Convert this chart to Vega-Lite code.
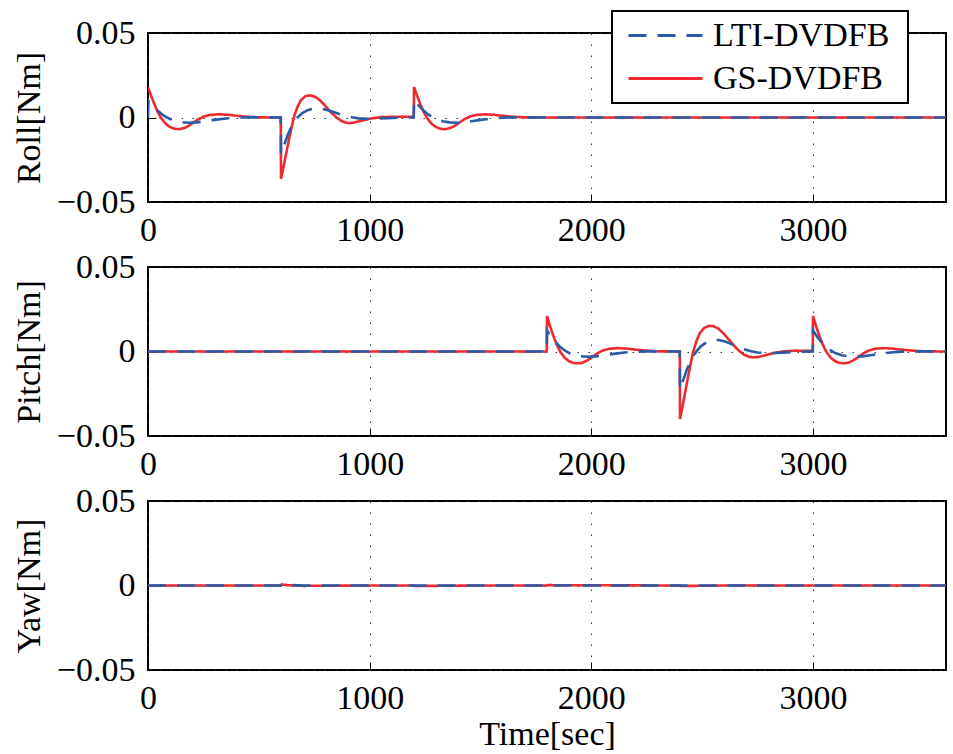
{
 "$schema": "https://vega.github.io/schema/vega-lite/v6.json",
 "padding": {"left": 11, "top": 9, "right": 5, "bottom": 5},
 "spacing": 65,
 "bounds": "flush",
 "datasets": {
  "roll": [
   {"t":0,"v":0.018,"s":"GS-DVDFB"},{"t":15,"v":0.0125,"s":"GS-DVDFB"},{"t":30,"v":0.0075,"s":"GS-DVDFB"},{"t":45,"v":0.003,"s":"GS-DVDFB"},{"t":60,"v":-0.0005,"s":"GS-DVDFB"},{"t":80,"v":-0.0038,"s":"GS-DVDFB"},{"t":100,"v":-0.0057,"s":"GS-DVDFB"},{"t":120,"v":-0.0067,"s":"GS-DVDFB"},{"t":140,"v":-0.0069,"s":"GS-DVDFB"},{"t":160,"v":-0.0064,"s":"GS-DVDFB"},{"t":180,"v":-0.0052,"s":"GS-DVDFB"},{"t":200,"v":-0.0035,"s":"GS-DVDFB"},{"t":225,"v":-0.0012,"s":"GS-DVDFB"},{"t":250,"v":0.0005,"s":"GS-DVDFB"},{"t":280,"v":0.0015,"s":"GS-DVDFB"},{"t":320,"v":0.0019,"s":"GS-DVDFB"},{"t":360,"v":0.0016,"s":"GS-DVDFB"},{"t":400,"v":0.001,"s":"GS-DVDFB"},{"t":450,"v":0.0004,"s":"GS-DVDFB"},{"t":500,"v":0.0001,"s":"GS-DVDFB"},{"t":560,"v":0,"s":"GS-DVDFB"},{"t":599,"v":0,"s":"GS-DVDFB"},
   {"t":600,"v":-0.0363,"s":"GS-DVDFB"},{"t":610,"v":-0.03,"s":"GS-DVDFB"},{"t":620,"v":-0.0235,"s":"GS-DVDFB"},{"t":630,"v":-0.017,"s":"GS-DVDFB"},{"t":640,"v":-0.0105,"s":"GS-DVDFB"},{"t":650,"v":-0.0045,"s":"GS-DVDFB"},{"t":660,"v":0.001,"s":"GS-DVDFB"},{"t":675,"v":0.0065,"s":"GS-DVDFB"},{"t":690,"v":0.0103,"s":"GS-DVDFB"},{"t":710,"v":0.0126,"s":"GS-DVDFB"},{"t":730,"v":0.0131,"s":"GS-DVDFB"},{"t":750,"v":0.0125,"s":"GS-DVDFB"},{"t":770,"v":0.0108,"s":"GS-DVDFB"},{"t":790,"v":0.0083,"s":"GS-DVDFB"},{"t":810,"v":0.0054,"s":"GS-DVDFB"},{"t":830,"v":0.0024,"s":"GS-DVDFB"},{"t":850,"v":0.0001,"s":"GS-DVDFB"},{"t":870,"v":-0.0018,"s":"GS-DVDFB"},{"t":890,"v":-0.003,"s":"GS-DVDFB"},{"t":910,"v":-0.0033,"s":"GS-DVDFB"},{"t":930,"v":-0.003,"s":"GS-DVDFB"},{"t":960,"v":-0.002,"s":"GS-DVDFB"},{"t":1000,"v":-0.0007,"s":"GS-DVDFB"},{"t":1050,"v":0.0002,"s":"GS-DVDFB"},{"t":1100,"v":0.0004,"s":"GS-DVDFB"},{"t":1199,"v":0.0004,"s":"GS-DVDFB"},
   {"t":1200,"v":0.018,"s":"GS-DVDFB"},{"t":1215,"v":0.0125,"s":"GS-DVDFB"},{"t":1230,"v":0.0075,"s":"GS-DVDFB"},{"t":1245,"v":0.003,"s":"GS-DVDFB"},{"t":1260,"v":-0.0005,"s":"GS-DVDFB"},{"t":1280,"v":-0.0038,"s":"GS-DVDFB"},{"t":1300,"v":-0.0057,"s":"GS-DVDFB"},{"t":1320,"v":-0.0067,"s":"GS-DVDFB"},{"t":1340,"v":-0.0069,"s":"GS-DVDFB"},{"t":1360,"v":-0.0064,"s":"GS-DVDFB"},{"t":1380,"v":-0.0052,"s":"GS-DVDFB"},{"t":1400,"v":-0.0035,"s":"GS-DVDFB"},{"t":1425,"v":-0.0012,"s":"GS-DVDFB"},{"t":1450,"v":0.0005,"s":"GS-DVDFB"},{"t":1480,"v":0.0015,"s":"GS-DVDFB"},{"t":1520,"v":0.0019,"s":"GS-DVDFB"},{"t":1560,"v":0.0016,"s":"GS-DVDFB"},{"t":1600,"v":0.001,"s":"GS-DVDFB"},{"t":1650,"v":0.0004,"s":"GS-DVDFB"},{"t":1700,"v":0.0001,"s":"GS-DVDFB"},{"t":1760,"v":0,"s":"GS-DVDFB"},{"t":3600,"v":0,"s":"GS-DVDFB"},
   {"t":0,"v":0,"s":"LTI-DVDFB"},{"t":2,"v":0.0098,"s":"LTI-DVDFB"},{"t":20,"v":0.0072,"s":"LTI-DVDFB"},{"t":40,"v":0.0045,"s":"LTI-DVDFB"},{"t":60,"v":0.0022,"s":"LTI-DVDFB"},{"t":80,"v":0.0004,"s":"LTI-DVDFB"},{"t":100,"v":-0.0009,"s":"LTI-DVDFB"},{"t":130,"v":-0.0022,"s":"LTI-DVDFB"},{"t":160,"v":-0.0029,"s":"LTI-DVDFB"},{"t":190,"v":-0.0031,"s":"LTI-DVDFB"},{"t":220,"v":-0.0029,"s":"LTI-DVDFB"},{"t":260,"v":-0.0022,"s":"LTI-DVDFB"},{"t":300,"v":-0.0014,"s":"LTI-DVDFB"},{"t":350,"v":-0.0006,"s":"LTI-DVDFB"},{"t":400,"v":-0.0001,"s":"LTI-DVDFB"},{"t":450,"v":0.0001,"s":"LTI-DVDFB"},{"t":520,"v":0.0001,"s":"LTI-DVDFB"},{"t":599,"v":0,"s":"LTI-DVDFB"},
   {"t":600,"v":-0.0215,"s":"LTI-DVDFB"},{"t":615,"v":-0.016,"s":"LTI-DVDFB"},{"t":630,"v":-0.0105,"s":"LTI-DVDFB"},{"t":645,"v":-0.006,"s":"LTI-DVDFB"},{"t":660,"v":-0.0025,"s":"LTI-DVDFB"},{"t":675,"v":0,"s":"LTI-DVDFB"},{"t":695,"v":0.0025,"s":"LTI-DVDFB"},{"t":720,"v":0.0043,"s":"LTI-DVDFB"},{"t":750,"v":0.0053,"s":"LTI-DVDFB"},{"t":775,"v":0.0053,"s":"LTI-DVDFB"},{"t":800,"v":0.0047,"s":"LTI-DVDFB"},{"t":830,"v":0.0035,"s":"LTI-DVDFB"},{"t":860,"v":0.0022,"s":"LTI-DVDFB"},{"t":890,"v":0.001,"s":"LTI-DVDFB"},{"t":920,"v":0.0001,"s":"LTI-DVDFB"},{"t":950,"v":-0.0005,"s":"LTI-DVDFB"},{"t":990,"v":-0.0008,"s":"LTI-DVDFB"},{"t":1030,"v":-0.0007,"s":"LTI-DVDFB"},{"t":1080,"v":-0.0004,"s":"LTI-DVDFB"},{"t":1140,"v":-0.0001,"s":"LTI-DVDFB"},{"t":1199,"v":0,"s":"LTI-DVDFB"},
   {"t":1200,"v":0.0105,"s":"LTI-DVDFB"},{"t":1220,"v":0.0072,"s":"LTI-DVDFB"},{"t":1240,"v":0.0045,"s":"LTI-DVDFB"},{"t":1260,"v":0.0022,"s":"LTI-DVDFB"},{"t":1280,"v":0.0004,"s":"LTI-DVDFB"},{"t":1300,"v":-0.0009,"s":"LTI-DVDFB"},{"t":1330,"v":-0.0022,"s":"LTI-DVDFB"},{"t":1360,"v":-0.0029,"s":"LTI-DVDFB"},{"t":1390,"v":-0.0031,"s":"LTI-DVDFB"},{"t":1420,"v":-0.0029,"s":"LTI-DVDFB"},{"t":1460,"v":-0.0022,"s":"LTI-DVDFB"},{"t":1500,"v":-0.0014,"s":"LTI-DVDFB"},{"t":1550,"v":-0.0006,"s":"LTI-DVDFB"},{"t":1600,"v":-0.0001,"s":"LTI-DVDFB"},{"t":1650,"v":0.0001,"s":"LTI-DVDFB"},{"t":1720,"v":0.0001,"s":"LTI-DVDFB"},{"t":1800,"v":0,"s":"LTI-DVDFB"},{"t":3600,"v":0,"s":"LTI-DVDFB"}
  ],
  "pitch": [
   {"t":0,"v":0,"s":"GS-DVDFB"},{"t":1799,"v":0,"s":"GS-DVDFB"},{"t":1800,"v":0.021,"s":"GS-DVDFB"},{"t":1815,"v":0.0145,"s":"GS-DVDFB"},{"t":1830,"v":0.0088,"s":"GS-DVDFB"},{"t":1845,"v":0.0038,"s":"GS-DVDFB"},{"t":1860,"v":-0.0002,"s":"GS-DVDFB"},{"t":1880,"v":-0.0037,"s":"GS-DVDFB"},{"t":1900,"v":-0.0058,"s":"GS-DVDFB"},{"t":1920,"v":-0.0068,"s":"GS-DVDFB"},{"t":1940,"v":-0.007,"s":"GS-DVDFB"},{"t":1960,"v":-0.0066,"s":"GS-DVDFB"},{"t":1980,"v":-0.0054,"s":"GS-DVDFB"},{"t":2000,"v":-0.0037,"s":"GS-DVDFB"},{"t":2025,"v":-0.0013,"s":"GS-DVDFB"},{"t":2050,"v":0.0005,"s":"GS-DVDFB"},{"t":2080,"v":0.0016,"s":"GS-DVDFB"},{"t":2120,"v":0.002,"s":"GS-DVDFB"},{"t":2160,"v":0.0017,"s":"GS-DVDFB"},{"t":2200,"v":0.0011,"s":"GS-DVDFB"},{"t":2250,"v":0.0005,"s":"GS-DVDFB"},{"t":2300,"v":0.0001,"s":"GS-DVDFB"},{"t":2399,"v":0,"s":"GS-DVDFB"},
   {"t":2400,"v":-0.04,"s":"GS-DVDFB"},{"t":2410,"v":-0.0335,"s":"GS-DVDFB"},{"t":2420,"v":-0.0265,"s":"GS-DVDFB"},{"t":2430,"v":-0.0195,"s":"GS-DVDFB"},{"t":2440,"v":-0.0125,"s":"GS-DVDFB"},{"t":2450,"v":-0.006,"s":"GS-DVDFB"},{"t":2460,"v":0,"s":"GS-DVDFB"},{"t":2475,"v":0.0065,"s":"GS-DVDFB"},{"t":2490,"v":0.011,"s":"GS-DVDFB"},{"t":2510,"v":0.014,"s":"GS-DVDFB"},{"t":2530,"v":0.0152,"s":"GS-DVDFB"},{"t":2550,"v":0.015,"s":"GS-DVDFB"},{"t":2570,"v":0.0138,"s":"GS-DVDFB"},{"t":2590,"v":0.0115,"s":"GS-DVDFB"},{"t":2610,"v":0.0087,"s":"GS-DVDFB"},{"t":2630,"v":0.0055,"s":"GS-DVDFB"},{"t":2650,"v":0.0025,"s":"GS-DVDFB"},{"t":2670,"v":0,"s":"GS-DVDFB"},{"t":2690,"v":-0.002,"s":"GS-DVDFB"},{"t":2710,"v":-0.0031,"s":"GS-DVDFB"},{"t":2730,"v":-0.0035,"s":"GS-DVDFB"},{"t":2750,"v":-0.0033,"s":"GS-DVDFB"},{"t":2780,"v":-0.0024,"s":"GS-DVDFB"},{"t":2820,"v":-0.001,"s":"GS-DVDFB"},{"t":2870,"v":0.0001,"s":"GS-DVDFB"},{"t":2920,"v":0.0005,"s":"GS-DVDFB"},{"t":2999,"v":0.0004,"s":"GS-DVDFB"},
   {"t":3000,"v":0.021,"s":"GS-DVDFB"},{"t":3015,"v":0.0145,"s":"GS-DVDFB"},{"t":3030,"v":0.0088,"s":"GS-DVDFB"},{"t":3045,"v":0.0038,"s":"GS-DVDFB"},{"t":3060,"v":-0.0002,"s":"GS-DVDFB"},{"t":3080,"v":-0.0037,"s":"GS-DVDFB"},{"t":3100,"v":-0.0058,"s":"GS-DVDFB"},{"t":3120,"v":-0.0068,"s":"GS-DVDFB"},{"t":3140,"v":-0.007,"s":"GS-DVDFB"},{"t":3160,"v":-0.0066,"s":"GS-DVDFB"},{"t":3180,"v":-0.0054,"s":"GS-DVDFB"},{"t":3200,"v":-0.0037,"s":"GS-DVDFB"},{"t":3225,"v":-0.0013,"s":"GS-DVDFB"},{"t":3250,"v":0.0005,"s":"GS-DVDFB"},{"t":3280,"v":0.0016,"s":"GS-DVDFB"},{"t":3320,"v":0.002,"s":"GS-DVDFB"},{"t":3360,"v":0.0017,"s":"GS-DVDFB"},{"t":3400,"v":0.0011,"s":"GS-DVDFB"},{"t":3450,"v":0.0005,"s":"GS-DVDFB"},{"t":3500,"v":0.0001,"s":"GS-DVDFB"},{"t":3600,"v":0,"s":"GS-DVDFB"},
   {"t":0,"v":0,"s":"LTI-DVDFB"},{"t":1799,"v":0,"s":"LTI-DVDFB"},{"t":1800,"v":0.0124,"s":"LTI-DVDFB"},{"t":1820,"v":0.0085,"s":"LTI-DVDFB"},{"t":1840,"v":0.0053,"s":"LTI-DVDFB"},{"t":1860,"v":0.0026,"s":"LTI-DVDFB"},{"t":1880,"v":0.0006,"s":"LTI-DVDFB"},{"t":1900,"v":-0.0009,"s":"LTI-DVDFB"},{"t":1930,"v":-0.0022,"s":"LTI-DVDFB"},{"t":1960,"v":-0.0029,"s":"LTI-DVDFB"},{"t":1990,"v":-0.0031,"s":"LTI-DVDFB"},{"t":2020,"v":-0.0029,"s":"LTI-DVDFB"},{"t":2060,"v":-0.0022,"s":"LTI-DVDFB"},{"t":2100,"v":-0.0014,"s":"LTI-DVDFB"},{"t":2150,"v":-0.0006,"s":"LTI-DVDFB"},{"t":2200,"v":-0.0001,"s":"LTI-DVDFB"},{"t":2250,"v":0.0001,"s":"LTI-DVDFB"},{"t":2320,"v":0.0001,"s":"LTI-DVDFB"},{"t":2399,"v":0,"s":"LTI-DVDFB"},
   {"t":2400,"v":-0.0225,"s":"LTI-DVDFB"},{"t":2415,"v":-0.0168,"s":"LTI-DVDFB"},{"t":2430,"v":-0.011,"s":"LTI-DVDFB"},{"t":2445,"v":-0.0063,"s":"LTI-DVDFB"},{"t":2460,"v":-0.0026,"s":"LTI-DVDFB"},{"t":2475,"v":0.0002,"s":"LTI-DVDFB"},{"t":2495,"v":0.0032,"s":"LTI-DVDFB"},{"t":2520,"v":0.0055,"s":"LTI-DVDFB"},{"t":2550,"v":0.0068,"s":"LTI-DVDFB"},{"t":2575,"v":0.0068,"s":"LTI-DVDFB"},{"t":2600,"v":0.006,"s":"LTI-DVDFB"},{"t":2630,"v":0.0045,"s":"LTI-DVDFB"},{"t":2660,"v":0.0028,"s":"LTI-DVDFB"},{"t":2690,"v":0.0013,"s":"LTI-DVDFB"},{"t":2720,"v":0.0002,"s":"LTI-DVDFB"},{"t":2750,"v":-0.0006,"s":"LTI-DVDFB"},{"t":2790,"v":-0.001,"s":"LTI-DVDFB"},{"t":2830,"v":-0.0009,"s":"LTI-DVDFB"},{"t":2880,"v":-0.0005,"s":"LTI-DVDFB"},{"t":2940,"v":-0.0001,"s":"LTI-DVDFB"},{"t":2999,"v":0,"s":"LTI-DVDFB"},
   {"t":3000,"v":0.0124,"s":"LTI-DVDFB"},{"t":3020,"v":0.0085,"s":"LTI-DVDFB"},{"t":3040,"v":0.0053,"s":"LTI-DVDFB"},{"t":3060,"v":0.0026,"s":"LTI-DVDFB"},{"t":3080,"v":0.0006,"s":"LTI-DVDFB"},{"t":3100,"v":-0.0009,"s":"LTI-DVDFB"},{"t":3130,"v":-0.0022,"s":"LTI-DVDFB"},{"t":3160,"v":-0.0029,"s":"LTI-DVDFB"},{"t":3190,"v":-0.0031,"s":"LTI-DVDFB"},{"t":3220,"v":-0.0029,"s":"LTI-DVDFB"},{"t":3260,"v":-0.0022,"s":"LTI-DVDFB"},{"t":3300,"v":-0.0014,"s":"LTI-DVDFB"},{"t":3350,"v":-0.0006,"s":"LTI-DVDFB"},{"t":3400,"v":-0.0001,"s":"LTI-DVDFB"},{"t":3450,"v":0.0001,"s":"LTI-DVDFB"},{"t":3520,"v":0.0001,"s":"LTI-DVDFB"},{"t":3600,"v":0,"s":"LTI-DVDFB"}
  ],
  "yaw": [
   {"t":0,"v":0,"s":"GS-DVDFB"},{"t":600,"v":0,"s":"GS-DVDFB"},{"t":603,"v":0.0006,"s":"GS-DVDFB"},{"t":630,"v":0.0002,"s":"GS-DVDFB"},{"t":700,"v":-0.0002,"s":"GS-DVDFB"},{"t":850,"v":-0.0001,"s":"GS-DVDFB"},{"t":1000,"v":0,"s":"GS-DVDFB"},{"t":1200,"v":0,"s":"GS-DVDFB"},{"t":1203,"v":-0.0003,"s":"GS-DVDFB"},{"t":1300,"v":-0.0002,"s":"GS-DVDFB"},{"t":1500,"v":0,"s":"GS-DVDFB"},{"t":1800,"v":0,"s":"GS-DVDFB"},{"t":1803,"v":0.0002,"s":"GS-DVDFB"},{"t":2400,"v":0,"s":"GS-DVDFB"},{"t":2403,"v":-0.0003,"s":"GS-DVDFB"},{"t":2600,"v":0,"s":"GS-DVDFB"},{"t":3600,"v":0,"s":"GS-DVDFB"},
   {"t":0,"v":0,"s":"LTI-DVDFB"},{"t":600,"v":0,"s":"LTI-DVDFB"},{"t":603,"v":0.0005,"s":"LTI-DVDFB"},{"t":700,"v":0,"s":"LTI-DVDFB"},{"t":3600,"v":0,"s":"LTI-DVDFB"}
  ]
 },
 "resolve": {
  "scale": {"color": "independent", "strokeDash": "independent"},
  "legend": {"color": "independent", "strokeDash": "independent"}
 },
 "vconcat": [
  {
   "width": 798, "height": 169,
   "data": {"name": "roll"},
   "mark": {"type": "line", "strokeWidth": 2.6, "clip": true},
   "encoding": {
    "x": {"field": "t", "type": "quantitative", "scale": {"domain": [0, 3600], "nice": false, "zero": false}, "axis": {"values": [0, 1000, 2000, 3000], "format": "d", "title": null}},
    "y": {"field": "v", "type": "quantitative", "scale": {"domain": [-0.05, 0.05], "nice": false}, "axis": {"values": [-0.05, 0, 0.05], "title": "Roll[Nm]", "labelExpr": "datum.value == 0 ? '0' : format(datum.value, '.2f')"}},
    "color": {"field": "s", "type": "nominal", "scale": {"domain": ["LTI-DVDFB", "GS-DVDFB"], "range": ["#2a5ba8", "#ee2a2f"]},
     "legend": {"orient": "none", "legendX": 464, "legendY": -22, "title": " ", "titleOrient": "right", "titleFontSize": 1, "titlePadding": 16, "strokeColor": "black", "fillColor": "white", "padding": 3, "symbolOffset": 12, "clipHeight": 43, "rowPadding": 0, "labelOffset": 9, "labelFontSize": 34, "labelFont": "Liberation Serif", "labelColor": "black", "symbolType": "stroke", "symbolSize": 5476, "symbolStrokeWidth": 3, "labelLimit": 400, "encode": {"legend": {"update": {"strokeWidth": {"value": 2}}}}}},
    "strokeDash": {"field": "s", "type": "nominal", "scale": {"domain": ["LTI-DVDFB", "GS-DVDFB"], "range": [[18, 11], [1, 0]]},
     "legend": {"orient": "none", "legendX": 464, "legendY": -22, "title": " ", "titleOrient": "right", "titleFontSize": 1, "titlePadding": 16, "strokeColor": "black", "fillColor": "white", "padding": 3, "symbolOffset": 12, "clipHeight": 43, "rowPadding": 0, "labelOffset": 9, "labelFontSize": 34, "labelFont": "Liberation Serif", "labelColor": "black", "symbolType": "stroke", "symbolSize": 5476, "symbolStrokeWidth": 3, "labelLimit": 400, "encode": {"legend": {"update": {"strokeWidth": {"value": 2}}}}}}
   }
  },
  {
   "width": 798, "height": 169,
   "data": {"name": "pitch"},
   "mark": {"type": "line", "strokeWidth": 2.6, "clip": true},
   "encoding": {
    "x": {"field": "t", "type": "quantitative", "scale": {"domain": [0, 3600], "nice": false, "zero": false}, "axis": {"values": [0, 1000, 2000, 3000], "format": "d", "title": null}},
    "y": {"field": "v", "type": "quantitative", "scale": {"domain": [-0.05, 0.05], "nice": false}, "axis": {"values": [-0.05, 0, 0.05], "title": "Pitch[Nm]", "labelExpr": "datum.value == 0 ? '0' : format(datum.value, '.2f')"}},
    "color": {"field": "s", "type": "nominal", "scale": {"domain": ["LTI-DVDFB", "GS-DVDFB"], "range": ["#2a5ba8", "#ee2a2f"]}, "legend": null},
    "strokeDash": {"field": "s", "type": "nominal", "scale": {"domain": ["LTI-DVDFB", "GS-DVDFB"], "range": [[18, 11], [1, 0]]}, "legend": null}
   }
  },
  {
   "width": 798, "height": 169,
   "data": {"name": "yaw"},
   "mark": {"type": "line", "strokeWidth": 2.6, "clip": true},
   "encoding": {
    "x": {"field": "t", "type": "quantitative", "scale": {"domain": [0, 3600], "nice": false, "zero": false}, "axis": {"values": [0, 1000, 2000, 3000], "format": "d", "title": "Time[sec]", "titlePadding": 2}},
    "y": {"field": "v", "type": "quantitative", "scale": {"domain": [-0.05, 0.05], "nice": false}, "axis": {"values": [-0.05, 0, 0.05], "title": "Yaw[Nm]", "labelExpr": "datum.value == 0 ? '0' : format(datum.value, '.2f')"}},
    "color": {"field": "s", "type": "nominal", "scale": {"domain": ["LTI-DVDFB", "GS-DVDFB"], "range": ["#2a5ba8", "#ee2a2f"]}, "legend": null},
    "strokeDash": {"field": "s", "type": "nominal", "scale": {"domain": ["LTI-DVDFB", "GS-DVDFB"], "range": [[18, 11], [1, 0]]}, "legend": null}
   }
  }
 ],
 "config": {
  "font": "Liberation Serif",
  "background": "white",
  "view": {"stroke": "black", "strokeWidth": 2},
  "axis": {"domain": false, "tickSize": -8, "tickColor": "black", "tickWidth": 1, "labelFontSize": 34, "labelColor": "black", "labelFont": "Liberation Serif", "labelFlush": false, "labelOverlap": false, "grid": true, "gridColor": "#333333", "gridDash": [1.5, 9.5], "gridWidth": 1, "titleFontSize": 34, "titleFont": "Liberation Serif", "titleFontWeight": "normal", "titleColor": "black"},
  "axisX": {"labelPadding": 19},
  "axisY": {"labelPadding": 21, "titlePadding": 10}
 }
}
